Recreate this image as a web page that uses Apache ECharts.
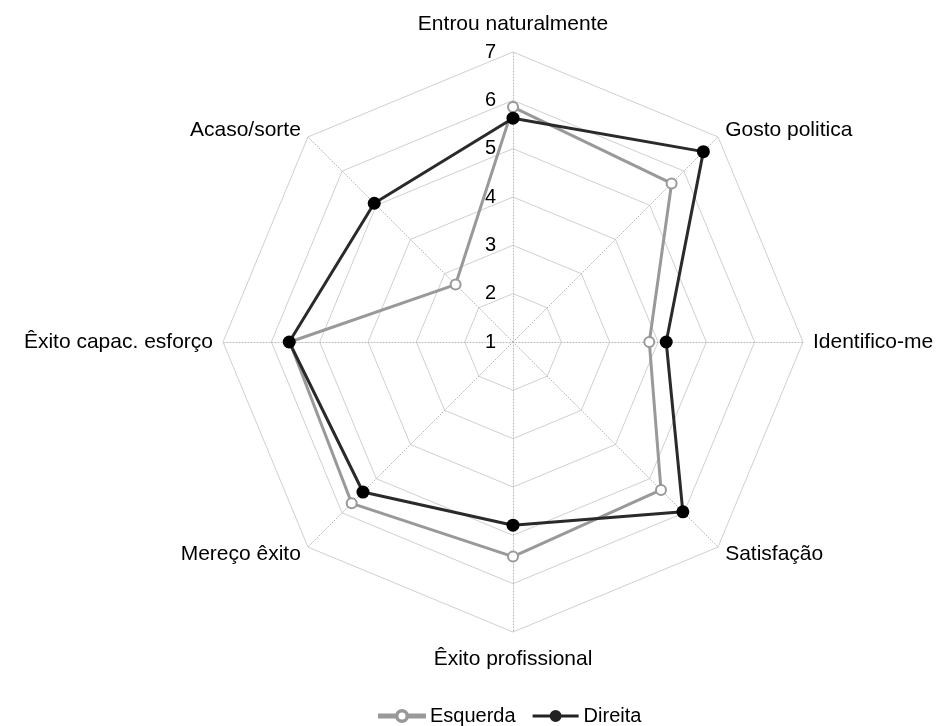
<!DOCTYPE html>
<html>
<head>
<meta charset="utf-8">
<script src="https://cdn.jsdelivr.net/npm/echarts@6/dist/echarts.min.js"></script>
<style>
html,body{margin:0;padding:0;background:#fff;}
#chart{width:938px;height:726px;}
</style>
</head>
<body>
<div id="chart"></div>
<script>
// Categories in ECharts' counter-clockwise order starting at top
var categories = ['Entrou naturalmente','Acaso/sorte','Êxito capac. esforço','Mereço êxito','Êxito profissional','Satisfação','Identifico-me','Gosto politica'];
var esquerda = [5.86, 2.68, 5.62, 5.72, 5.44, 5.33, 3.82, 5.64];
var direita  = [5.63, 5.06, 5.63, 5.39, 4.79, 5.97, 4.17, 6.57];
var tickLabels = ['1','2','3','4','5','6','7'];
var axisMin = 1, axisMax = 7;

var font = 'Liberation Sans, Arial, sans-serif';
var chart = echarts.init(document.getElementById('chart'));

var iconHollow = 'path://M0,4.5 H17 V7.5 H0 Z M29,4.5 H46 V7.5 H29 Z M23,0 A6,6 0 1,1 23,12 A6,6 0 1,1 23,0 Z M23,1.5 A4.5,4.5 0 1,0 23,10.5 A4.5,4.5 0 1,0 23,1.5 Z';
var iconFilled = 'path://M0,4.5 H46 V7.5 H0 Z M23,0 A6,6 0 1,1 23,12 A6,6 0 1,1 23,0 Z';

function nameStyle(extra) {
  var s = {color: '#000', fontSize: 21, fontFamily: font};
  for (var k in extra) s[k] = extra[k];
  return s;
}

chart.setOption({
  animation: false,
  backgroundColor: '#fff',
  textStyle: {fontFamily: font},
  legend: {
    left: 373, top: 701,
    itemWidth: 46, itemHeight: 12, itemGap: 17,
    textStyle: {fontSize: 20, color: '#000', fontFamily: font},
    data: [
      {name: 'Esquerda', icon: iconHollow, itemStyle: {color: '#999999'}},
      {name: 'Direita', icon: iconFilled, itemStyle: {color: '#222222'}}
    ]
  },
  radar: [
    {
      center: [513, 342], radius: 290, startAngle: 90,
      shape: 'polygon', splitNumber: 6,
      indicator: categories.map(function (c) { return {name: c, min: axisMin, max: axisMax}; }),
      axisName: {
        color: '#000', fontSize: 21, fontFamily: font,
        formatter: function (name) {
          var i = categories.indexOf(name);
          if (i === 0) return '{top|' + name + '}';
          if (i === 4) return '{bot|' + name + '}';
          return '{n|' + name + '}';
        },
        rich: {
          top: nameStyle({padding: [0, 0, 7, 0]}),
          bot: nameStyle({padding: [7, 0, 0, 0]}),
          n: nameStyle({})
        }
      },
      nameGap: 10,
      splitLine: {lineStyle: {color: '#d0d0d0', width: 1}},
      splitArea: {show: false},
      axisLine: {lineStyle: {color: '#b8b8b8', type: [1, 2], width: 1}},
      axisTick: {show: false},
      axisLabel: {show: false}
    },
    {
      center: [513, 342], radius: 290, startAngle: 90,
      shape: 'polygon', splitNumber: 6,
      indicator: [{name: '', min: axisMin, max: axisMax}],
      axisName: {show: false},
      splitLine: {show: false},
      splitArea: {show: false},
      axisLine: {show: false},
      axisTick: {show: false},
      axisLabel: {
        show: true, color: '#000', fontSize: 20, fontFamily: font, margin: 17,
        formatter: function (v) { return tickLabels[Math.round(v) - axisMin] || ''; }
      }
    }
  ],
  series: [
    {
      type: 'radar', name: 'Esquerda', radarIndex: 0, z: 2,
      symbol: 'emptyCircle', symbolSize: 10,
      lineStyle: {color: '#999999', width: 3},
      itemStyle: {color: '#999999', borderColor: '#999999', borderWidth: 2},
      data: [{name: 'Esquerda', value: esquerda}]
    },
    {
      type: 'radar', name: 'Direita', radarIndex: 0, z: 3,
      symbol: 'circle', symbolSize: 13,
      lineStyle: {color: '#2a2a2a', width: 3},
      itemStyle: {color: '#000000'},
      data: [{name: 'Direita', value: direita}]
    }
  ]
});
</script>
</body>
</html>
